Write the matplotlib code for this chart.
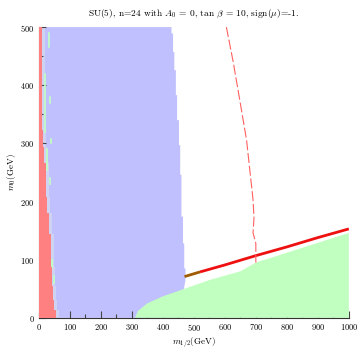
import numpy as np
import matplotlib
matplotlib.use("Agg")
import matplotlib.pyplot as plt

plt.rcParams['font.family'] = ['cmr10', 'DejaVu Serif']
plt.rcParams['mathtext.fontset'] = 'cm'
plt.rcParams['axes.formatter.use_mathtext'] = True

# excluded by charged LSP / tachyons (red) : right edge x as function of m0
red_m0 = [500, 323, 294, 266, 208, 180, 145, 88, 54, 31, 14, 0]
red_x = [11, 14, 17, 22, 27, 33, 38, 43, 46, 49, 55, 60]

# blue region right edge (x) as function of m0
blue_m0 = [500, 489, 457, 426, 383, 340, 297, 246, 174, 128, 85, 65]
blue_x = [428, 433, 437, 442, 446, 452, 456, 460, 465, 469, 473, 473]

# green region upper boundary
green_x = [310, 320, 350, 400, 470, 550, 650, 700, 800, 900, 1000]
green_m0 = [0, 12, 25, 37, 50, 65, 80, 95, 112, 129, 146]

# relic density band (thick line)
band_x = [470, 520, 600, 700, 800, 900, 1000]
band_m0 = [71, 79, 91, 107, 122, 138, 153]

# dashed contour
dash_x = [605, 627, 648, 670, 691, 694, 691, 700, 700]
dash_m0 = [500, 440, 375, 306, 203, 172, 146, 128, 95]

# small green specks near left edge (x, m0 low, m0 high)
specks = [(21, 320, 420), (26, 255, 290), (29, 150, 165), (35, 230, 240),
          (40, 300, 308), (44, 85, 100), (48, 60, 72), (33, 465, 490), (36, 370, 380)]


def steps(xs, ys):
    # stepped outline: hold x until next y level
    px, py = [], []
    for i in range(len(xs)):
        px.append(xs[i]); py.append(ys[i])
        if i + 1 < len(xs):
            px.append(xs[i]); py.append(ys[i + 1])
    return px, py


fig = plt.figure(figsize=(3.63, 3.52), dpi=100)
ax = fig.add_axes([0.107, 0.097, 0.854, 0.826])

# blue
bx, by = steps(blue_x, blue_m0)
poly_x = [0] + bx + [468, 468, 0]
poly_y = [500] + by + [50, 0, 0]
ax.fill(poly_x, poly_y, color='#c0c0ff', lw=0, zorder=1)

# pale strip between red and blue
rx, ry = steps(red_x, red_m0)
sx = [x + 10 for x in rx]
ax.fill(rx + sx[::-1], ry + ry[::-1], color='#cfd3f2', lw=0, zorder=1.5)
for x, y0, y1 in specks:
    ax.plot([x, x], [y0, y1], color='#c0ffc0', lw=1.2, zorder=1.6)

# green
ax.fill(green_x + [1000, 310], green_m0 + [0, 0], color='#c0ffc0', lw=0, zorder=2)

# red
ax.fill([0] + rx + [0], [500] + ry + [0], color='#ff8080', lw=0, zorder=3)

# band line
ax.plot(band_x[:2], band_m0[:2], color='#a05a00', lw=2.0, solid_capstyle='butt', zorder=4)
ax.plot(band_x[1:], band_m0[1:], color='#ee1010', lw=2.0, solid_capstyle='butt', zorder=4)

# dashed line
ax.plot(dash_x, dash_m0, color='#ff6060', lw=0.8, dashes=(9, 2.5), zorder=4)

ax.set_xlim(0, 1000)
ax.set_ylim(0, 500)
ax.set_xticks(np.arange(0, 1001, 100))
ax.set_xticks(np.arange(0, 1001, 50), minor=True)
ax.set_yticks(np.arange(0, 501, 100))
ax.set_yticks(np.arange(0, 501, 50), minor=True)
ax.tick_params(which='both', direction='in', color='#444444', labelsize=6, pad=3)
ax.tick_params(which='major', length=5, width=0.8)
ax.tick_params(which='minor', length=3, width=0.8)
for s in ['top', 'right']:
    ax.spines[s].set_visible(False)
for s in ['left', 'bottom']:
    ax.spines[s].set_color('#333333')
    ax.spines[s].set_linewidth(0.8)

ax.set_xlabel(r'$m_{1/2}$(GeV)', fontsize=6.5, labelpad=2)
ax.set_ylabel(r'$m_0$(GeV)', fontsize=6.5, labelpad=2)
ax.set_title(r'SU(5), n=24 with $A_0$ = 0, tan $\beta$ = 10, sign($\mu$)=-1.', fontsize=6.8, pad=8)

fig.savefig('out.png', dpi=100)
